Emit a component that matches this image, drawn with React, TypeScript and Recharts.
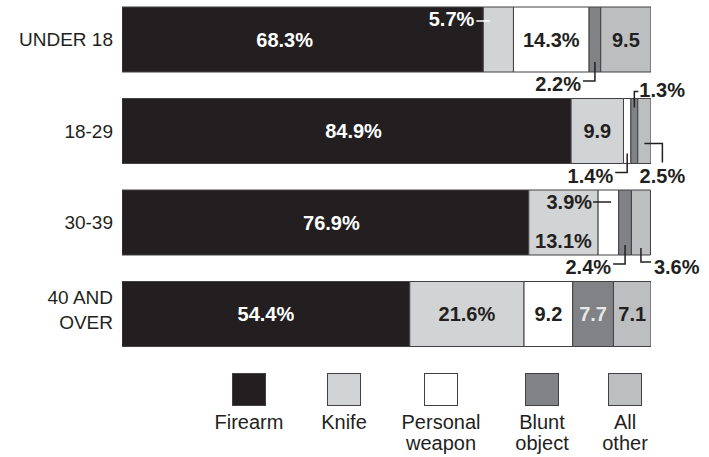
import React from 'react';
import { BarChart, Bar, XAxis, YAxis, LabelList } from 'recharts';

const categories = ['UNDER 18', '18-29', '30-39', '40 AND OVER'];
const tickLines = [['UNDER 18'], ['18-29'], ['30-39'], ['40 AND', 'OVER']];

const firearm = [68.3, 84.9, 76.9, 54.4];
const knife = [5.7, 9.9, 13.1, 21.6];
const personalWeapon = [14.3, 1.4, 3.9, 9.2];
const bluntObject = [2.2, 1.3, 2.4, 7.7];
const allOther = [9.5, 2.5, 3.6, 7.1];

const seriesKeys = ['firearm', 'knife', 'personal', 'blunt', 'other'];
const seriesNames = [['Firearm'], ['Knife'], ['Personal', 'weapon'], ['Blunt', 'object'], ['All', 'other']];
const seriesColors = ['#231f20', '#d1d3d4', '#ffffff', '#808285', '#bcbec0'];

// which labels carry a % sign
const showPercent: Record<string, boolean[]> = {
  firearm: [true, true, true, true],
  knife: [true, false, true, true],
  personal: [true, true, true, false],
  blunt: [true, true, true, false],
  other: [false, true, true, false],
};

// where each label goes relative to its segment
const labelPlacement: Record<string, string[]> = {
  firearm: ['center', 'center', 'center', 'center'],
  knife: ['leftOut', 'center', 'centerLow', 'center'],
  personal: ['center', 'belowLeft', 'leftIn', 'center'],
  blunt: ['belowLeft', 'aboveRight', 'belowLeft', 'center'],
  other: ['center', 'belowRight', 'belowRightCorner', 'center'],
};
// small horizontal nudges for the big firearm labels
const firearmLabelDx = [-18, 7, 6, 0];

const data = categories.map((name, i) => ({
  name,
  firearm: firearm[i],
  knife: knife[i],
  personal: personalWeapon[i],
  blunt: bluntObject[i],
  other: allOther[i],
}));

const FONT = "'Liberation Sans', Arial, Helvetica, sans-serif";
const DARK = '#231f20';

const AgeTick = (props: any) => {
  const { y, index } = props;
  const lines = tickLines[index] || [String(props.payload?.value)];
  const offsets = lines.length > 1 ? [-16.5, 8.5] : [0];
  return (
    <g>
      {lines.map((l: string, j: number) => (
        <text key={j} x={113} y={y + offsets[j]} textAnchor="end" dominantBaseline="central"
          fontFamily={FONT} fontSize={19} fill={DARK}>
          {l}
        </text>
      ))}
    </g>
  );
};

const renderSegmentLabel = (key: string, props: any) => {
  const vb = props.viewBox || props;
  const { x, y, width: w, height: h } = vb;
  const index: number = props.index ?? 0;
  const place = labelPlacement[key][index];
  const text = `${props.value}${showPercent[key][index] ? '%' : ''}`;
  const cx = x + w / 2;
  const cy = y + h / 2;
  const bottom = y + h;
  let fill = DARK;
  if (key === 'firearm') fill = '#ffffff';
  if (key === 'blunt' && place === 'center') fill = '#e6e7e8';
  const t = (tx: number, ty: number, anchor: string, color = fill) => (
    <text x={tx} y={ty} textAnchor={anchor} dominantBaseline="central" fontFamily={FONT}
      fontSize={20} fontWeight="bold" fill={color}>
      {text}
    </text>
  );
  const ln = { stroke: DARK, strokeWidth: 1.5, fill: 'none' };

  switch (place) {
    case 'center':
      return t(cx + (key === 'firearm' ? firearmLabelDx[index] : 0), cy, 'middle');
    case 'centerLow':
      return t(cx, bottom - 14, 'middle');
    case 'leftOut':
      return (
        <g>
          <line x1={x - 7} x2={x + 7} y1={y + 14} y2={y + 14} stroke="#fff" strokeWidth={1.5} />
          {t(x - 9, y + 12, 'end', '#ffffff')}
        </g>
      );
    case 'leftIn':
      return (
        <g>
          <line x1={x - 5} x2={x + 13} y1={y + 12} y2={y + 12} {...ln} />
          {t(x - 6, y + 12, 'end')}
        </g>
      );
    case 'belowLeft':
      return (
        <g>
          <polyline points={`${cx},${bottom - 10} ${cx},${bottom + 9} ${cx - 12},${bottom + 9}`} {...ln} />
          {t(cx - 14, bottom + 12, 'end')}
        </g>
      );
    case 'aboveRight':
      return (
        <g>
          <polyline points={`${cx},${y + 9} ${cx},${y - 7} ${cx + 4},${y - 7}`} {...ln} />
          {t(cx + 5, y - 9, 'start')}
        </g>
      );
    case 'belowRight':
      return (
        <g>
          <polyline points={`${cx},${y + 45} ${cx + 18},${y + 45} ${cx + 18},${bottom - 1}`} {...ln} />
          {t(cx + 18, bottom + 12, 'middle')}
        </g>
      );
    case 'belowRightCorner':
      return (
        <g>
          <polyline points={`${cx},${bottom - 7} ${cx},${bottom + 7} ${cx + 10},${bottom + 7}`} {...ln} />
          {t(cx + 13, bottom + 12, 'start')}
        </g>
      );
    default:
      return null;
  }
};

const legendLeft = [232, 327, 424, 525, 608];

export default function App() {
  return (
    <div style={{ position: 'absolute', left: 0, top: 0, width: 709, height: 457, overflow: 'hidden', background: '#fff' }}>
      <div style={{ position: 'absolute', left: 0, top: -6 }}>
        <BarChart width={709} height={463} data={data} layout="vertical"
          margin={{ top: 0, right: 58, bottom: 97, left: 0 }} barSize={65} barCategoryGap={0}>
          <XAxis type="number" domain={[0, 100]} allowDataOverflow hide />
          <YAxis type="category" dataKey="name" width={122} axisLine={false} tickLine={false}
            interval={0} tick={(p: any) => <AgeTick {...p} />} />
          {seriesKeys.map((k, i) => (
            <Bar key={k} dataKey={k} stackId="a" fill={seriesColors[i]} stroke="#414042"
              strokeWidth={1} isAnimationActive={false}>
              <LabelList dataKey={k} content={(p: any) => renderSegmentLabel(k, p)} />
            </Bar>
          ))}
        </BarChart>
      </div>
      {seriesKeys.map((k, i) => (
        <div key={k}>
          <div style={{
            position: 'absolute', left: legendLeft[i], top: 373, width: 34, height: 33,
            boxSizing: 'border-box', background: seriesColors[i], border: '1.5px solid #414042',
          }} />
          <div style={{
            position: 'absolute', left: legendLeft[i] + 17 - 60, top: 412, width: 120,
            textAlign: 'center', fontFamily: FONT, fontSize: 20, lineHeight: '21px', color: DARK,
          }}>
            {seriesNames[i].map((s) => <div key={s}>{s}</div>)}
          </div>
        </div>
      ))}
    </div>
  );
}
